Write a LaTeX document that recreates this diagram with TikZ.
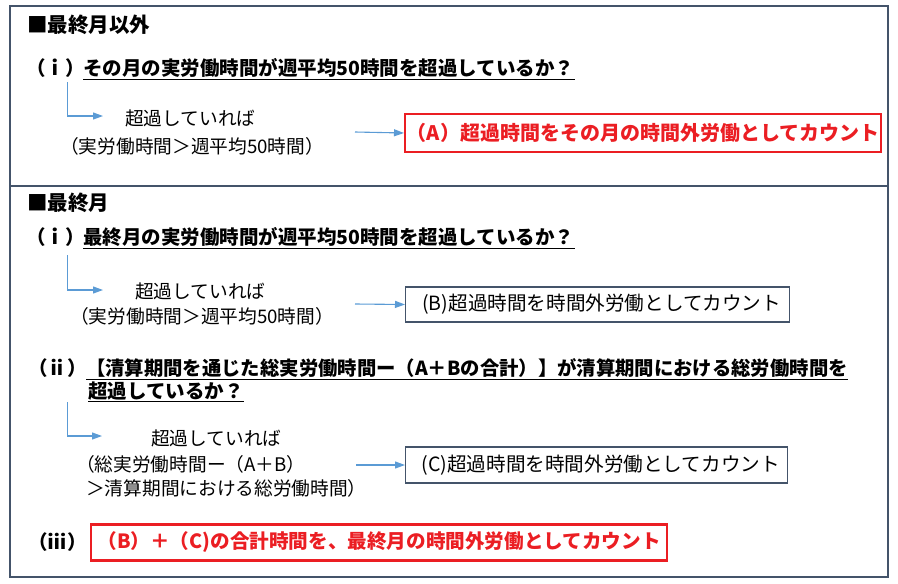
\documentclass[tikz,border=0pt]{standalone}
\usepackage{fontspec}
\setmainfont{Noto Sans CJK JP}
\usetikzlibrary{arrows.meta}
\definecolor{frameslate}{HTML}{44546A}
\definecolor{arrowblue}{HTML}{5B9BD5}
\definecolor{boxred}{RGB}{235,30,35}
\begin{document}
\begin{tikzpicture}[x=1pt,y=-1pt,
  txt/.style={inner sep=0pt, anchor=west, font=\fontsize{18.7}{22}\selectfont},
  bt/.style={inner sep=0pt, anchor=west, font=\fontsize{19.5}{22}\selectfont\bfseries},
  head/.style={inner sep=0pt, anchor=west, font=\fontsize{20.5}{24}\selectfont\bfseries},
  uline/.style={draw=black, line width=1.1pt},
  arr/.style={draw=arrowblue, line width=1.1pt, -{Triangle[length=10pt,width=7pt]}},
  frame/.style={draw=frameslate, line width=2.2pt},
  redbox/.style={draw=boxred, line width=2.2pt, anchor=west, inner sep=0pt, text=boxred, font=\fontsize{20}{24}\selectfont\bfseries},
  greybox/.style={draw=frameslate, line width=1.3pt, anchor=west, inner sep=0pt, font=\fontsize{19.6}{23}\selectfont}]
\useasboundingbox (0,0) rectangle (898,584);
\draw[frame] (10,6) rectangle (888,186);
\draw[frame] (10,186) rectangle (888,577);
% section 1
\node[head] (h1) at (27,25) {■最終月以外};
\node[bt] (l1) at (26,68) {（ｉ）};
\node[bt] (q1) at (83,68) {その月の実労働時間が週平均50時間を超過しているか？};
\draw[uline] ([yshift=-1.5pt]q1.south west) -- ([yshift=-1.5pt]q1.south east);
\coordinate (s1) at (67.5,82);
\coordinate (e1) at (103,116);
\draw[arr] (s1) |- (e1);
\node[txt] (o1) at (125,118) {超過していれば};
\node[txt] (p1) at (60,146) {（実労働時間＞週平均50時間）};
\node[redbox, minimum width=476pt, minimum height=38pt] (A) at (404,133) {（A）超過時間をその月の時間外労働としてカウント};
\coordinate (s2) at (355,132);
\draw[arr] (s2) -- (A.west);
% section 2
\node[head] (h2) at (27,203) {■最終月};
\node[bt] (l2) at (26,237) {（ｉ）};
\node[bt] (q2) at (83,237) {最終月の実労働時間が週平均50時間を超過しているか？};
\draw[uline] ([yshift=-1.5pt]q2.south west) -- ([yshift=-1.5pt]q2.south east);
\coordinate (s3) at (67.5,255);
\coordinate (e3) at (103,290);
\draw[arr] (s3) |- (e3);
\node[txt] (o2) at (135,291) {超過していれば};
\node[txt] (p2) at (70,316) {（実労働時間＞週平均50時間）};
\node[greybox, minimum width=384pt, minimum height=35pt] (B) at (405,304.5) {\hspace*{8pt}(B)超過時間を時間外労働としてカウント};
\coordinate (s4) at (355,304);
\draw[arr] (s4) -- (B.west);
% (ii)
\node[bt] (l3) at (28,368) {（ⅱ）};
\node[bt, font=\fontsize{19.35}{22}\selectfont\bfseries] (q3a) at (86,368) {【清算期間を通じた総実労働時間ー（A＋Bの合計）】が清算期間における総労働時間を};
\node[bt] (q3b) at (88,391) {超過しているか？};
\draw[uline] ([yshift=-1.5pt]q3a.south west) -- ([yshift=-1.5pt]q3a.south east);
\draw[uline] ([yshift=-1.5pt]q3b.south west) -- ([yshift=-1.5pt]q3b.south east);
\coordinate (s5) at (67.5,402);
\coordinate (e5) at (102,436);
\draw[arr] (s5) |- (e5);
\node[txt] (o3) at (151,438) {超過していれば};
\node[txt] (p3) at (76,464) {（総実労働時間ー（A＋B）};
\node[txt] (p3b) at (86,488) {＞清算期間における総労働時間）};
\node[greybox, minimum width=382pt, minimum height=36pt] (C) at (405,465) {\hspace*{8pt}(C)超過時間を時間外労働としてカウント};
\coordinate (s6) at (356,465);
\draw[arr] (s6) -- (C.west);
% (iii)
\node[bt] (l4) at (28,542) {（ⅲ）};
\node[redbox, minimum width=576pt, minimum height=36pt, font=\fontsize{19.6}{24}\selectfont\bfseries] (D) at (90,542.5) {（B）＋（C)の合計時間を、最終月の時間外労働としてカウント};
\end{tikzpicture}
\end{document}
